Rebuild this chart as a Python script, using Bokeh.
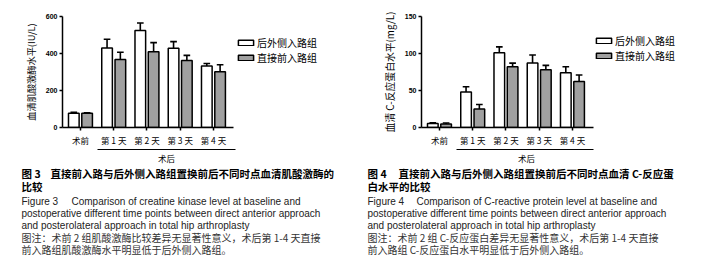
from bokeh.plotting import figure
from bokeh.models import Range1d, FixedTicker, Label, Legend, LegendItem
from bokeh.layouts import row, column
from bokeh.embed import file_html
from bokeh.resources import INLINE

# ---------------- data ----------------
categories = ["术前", "第 1 天", "第 2 天", "第 3 天", "第 4 天"]
series_names = ["后外侧入路组", "直接前入路组"]
group_label = "术后"

ck_posterolateral = [77, 430, 524, 429, 333]
ck_posterolateral_err = [5, 47, 41, 35, 13]
ck_anterior = [77, 367, 409, 362, 302]
ck_anterior_err = [3, 40, 50, 28, 37]
ck_yticks = [0, 200, 400, 600]

crp_posterolateral = [5.5, 48, 101, 87, 74]
crp_posterolateral_err = [0.8, 7, 8, 11, 8]
crp_anterior = [4.8, 25, 82, 78, 62]
crp_anterior_err = [1.2, 6, 5, 6, 9]
crp_yticks = [0, 50, 100, 150]

cap3 = [
    ("图 3", 0, 173, "title"),
    ("直接前入路与后外侧入路组置换前后不同时点血清肌酸激酶的", 29, 173, "title"),
    ("比较", 0, 186, "title"),
    ("Figure 3", 0, 201, "en"),
    ("Comparison of creatine kinase level at baseline and", 50, 201, "en"),
    ("postoperative different time points between direct anterior approach", 0, 213, "en"),
    ("and posterolateral approach in total hip arthroplasty", 0, 225, "en"),
    ("图注：术前 2 组肌酸激酶比较差异无显著性意义，术后第 1-4 天直接", 0, 237, "note"),
    ("前入路组肌酸激酶水平明显低于后外侧入路组。", 0, 249, "note"),
]
cap4 = [
    ("图 4", 0, 173, "title"),
    ("直接前入路与后外侧入路组置换前后不同时点血清 C-反应蛋", 31, 173, "title"),
    ("白水平的比较", 0, 186, "title"),
    ("Figure 4", 0, 201, "en"),
    ("Comparison of C-reactive protein level at baseline and", 49, 201, "en"),
    ("postoperative different time points between direct anterior approach", 0, 213, "en"),
    ("and posterolateral approach in total hip arthroplasty", 0, 225, "en"),
    ("图注：术前 2 组 C-反应蛋白差异无显著性意义，术后第 1-4 天直接", 0, 237, "note"),
    ("前入路组 C-反应蛋白水平明显低于后外侧入路组。", 0, 249, "note"),
]

CJK = "Noto Sans CJK SC"
EN = "Liberation Sans"
GRAY = "#a0a0a0"
CH = 148       # height of chart row
PX_PER_CAT = 33.25
X0 = -0.54     # data x at the y axis


def make_chart(post, post_err, ant, ant_err, ymax, yticks, ylabel, ylabel_size,
               fl, fr, ft, fb, leg_x, leg_y, leg_row):
    W = 351
    frame_right = W - 4
    x_end = X0 + (frame_right - fl) / PX_PER_CAT
    axis_end = X0 + (fr - fl) / PX_PER_CAT
    p = figure(width=W, height=CH, output_backend="svg", toolbar_location=None,
               x_range=Range1d(X0, x_end), y_range=Range1d(0, ymax),
               min_border_left=fl, min_border_right=W - frame_right,
               min_border_top=ft, min_border_bottom=CH - fb,
               background_fill_color="white", border_fill_color="white")
    p.outline_line_color = None
    p.grid.visible = False

    xs = list(range(len(categories)))
    off, bw, cw = 0.2, 0.32, 0.2
    xw = [x - off for x in xs]
    xg = [x + off for x in xs]
    tw = [v + e for v, e in zip(post, post_err)]
    tg = [v + e for v, e in zip(ant, ant_err)]

    for xx, v, t in ((xw, post, tw), (xg, ant, tg)):
        p.segment(x0=xx, y0=v, x1=xx, y1=t, line_color="black", line_width=1.6)
        p.segment(x0=[x - cw / 2 for x in xx], y0=t, x1=[x + cw / 2 for x in xx], y1=t,
                  line_color="black", line_width=1.6)

    r1 = p.vbar(x=xw, top=post, width=bw, bottom=0, fill_color="white",
                line_color="black", line_width=1.5)
    r2 = p.vbar(x=xg, top=ant, width=bw, bottom=0, fill_color=GRAY,
                line_color="black", line_width=1.5)

    ya = p.yaxis[0]
    ya.ticker = FixedTicker(ticks=yticks)
    ya.minor_tick_line_color = None
    ya.major_tick_in = 0
    ya.major_tick_out = 3
    ya.major_tick_line_width = 1.5
    ya.axis_line_width = 1.5
    ya.major_label_text_font = EN
    ya.major_label_text_font_style = "bold"
    ya.major_label_text_font_size = "7px"
    ya.major_label_text_color = "black"
    ya.major_label_standoff = 2
    ya.axis_label = ylabel
    ya.axis_label_text_font = CJK
    ya.axis_label_text_font_style = "normal"
    ya.axis_label_text_font_size = ylabel_size
    ya.axis_label_text_color = "black"
    ya.axis_label_standoff = 5

    xa = p.xaxis[0]
    xa.bounds = (X0, axis_end)
    xa.ticker = FixedTicker(ticks=xs)
    xa.major_label_overrides = {i: c for i, c in enumerate(categories)}
    xa.minor_tick_line_color = None
    xa.major_tick_in = 0
    xa.major_tick_out = 3
    xa.major_tick_line_width = 1.5
    xa.axis_line_width = 1.5
    xa.major_label_text_font = CJK
    xa.major_label_text_font_size = "8.5px"
    xa.major_label_text_color = "black"
    xa.major_label_standoff = 3

    legend = Legend(items=[LegendItem(label=series_names[0], renderers=[r1]),
                           LegendItem(label=series_names[1], renderers=[r2])],
                    location=(leg_x - fl, fb - leg_y), orientation="vertical",
                    glyph_width=19, glyph_height=7, label_standoff=2, spacing=0,
                    padding=0, margin=0, border_line_color=None,
                    background_fill_alpha=0,
                    label_text_font=CJK, label_text_font_size="10px",
                    label_text_color="black",
                    label_height=leg_row, label_text_line_height=1.0)
    p.add_layout(legend)
    return p


p1 = make_chart(ck_posterolateral, ck_posterolateral_err, ck_anterior, ck_anterior_err,
                600, ck_yticks, "血清肌酸激酶水平(IU/L)", "9.2px",
                fl=62, fr=233, ft=16, fb=129, leg_x=236, leg_y=67, leg_row=10)
p2 = make_chart(crp_posterolateral, crp_posterolateral_err, crp_anterior, crp_anterior_err,
                150, crp_yticks, "血清 C-反应蛋白水平(mg/L)", "9.8px",
                fl=70, fr=242, ft=12, fb=127, leg_x=243, leg_y=63, leg_row=12)

# ---------------- caption panel (page coordinates) ----------------
pc = figure(width=702, height=277 - CH, output_backend="svg", toolbar_location=None,
            x_range=Range1d(0, 702), y_range=Range1d(277, CH),
            x_axis_type=None, y_axis_type=None, min_border=0,
            background_fill_color="white", border_fill_color="white")
pc.outline_line_color = None
pc.grid.visible = False

for x0, x1, cx in ((97, 235, 166), (456, 593, 526)):
    pc.segment(x0=[x0], y0=[CH + 1], x1=[x1], y1=[CH + 1], line_color="black", line_width=1)
    pc.add_layout(Label(x=cx, y=157, text=group_label, text_font=CJK, text_font_size="8.5px",
                        text_align="center", text_baseline="middle", text_color="black"))

for captions, cap_x in ((cap3, 21), (cap4, 351 + 16)):
    for text, dx, cy, kind in captions:
        if kind == "title":
            kw = dict(text_font=CJK, text_font_size="10.5px", text_font_style="bold",
                      text_color="black")
        elif kind == "en":
            kw = dict(text_font=EN, text_font_size="10px", text_color="#222222")
        else:
            kw = dict(text_font=CJK, text_font_size="10px", text_color="#333333")
        pc.add_layout(Label(x=cap_x + dx, y=cy, text=text, text_align="left",
                            text_baseline="middle", **kw))

layout = column(row(p1, p2, spacing=0), pc, spacing=0)
open("out.html", "w").write(file_html(layout, INLINE))
